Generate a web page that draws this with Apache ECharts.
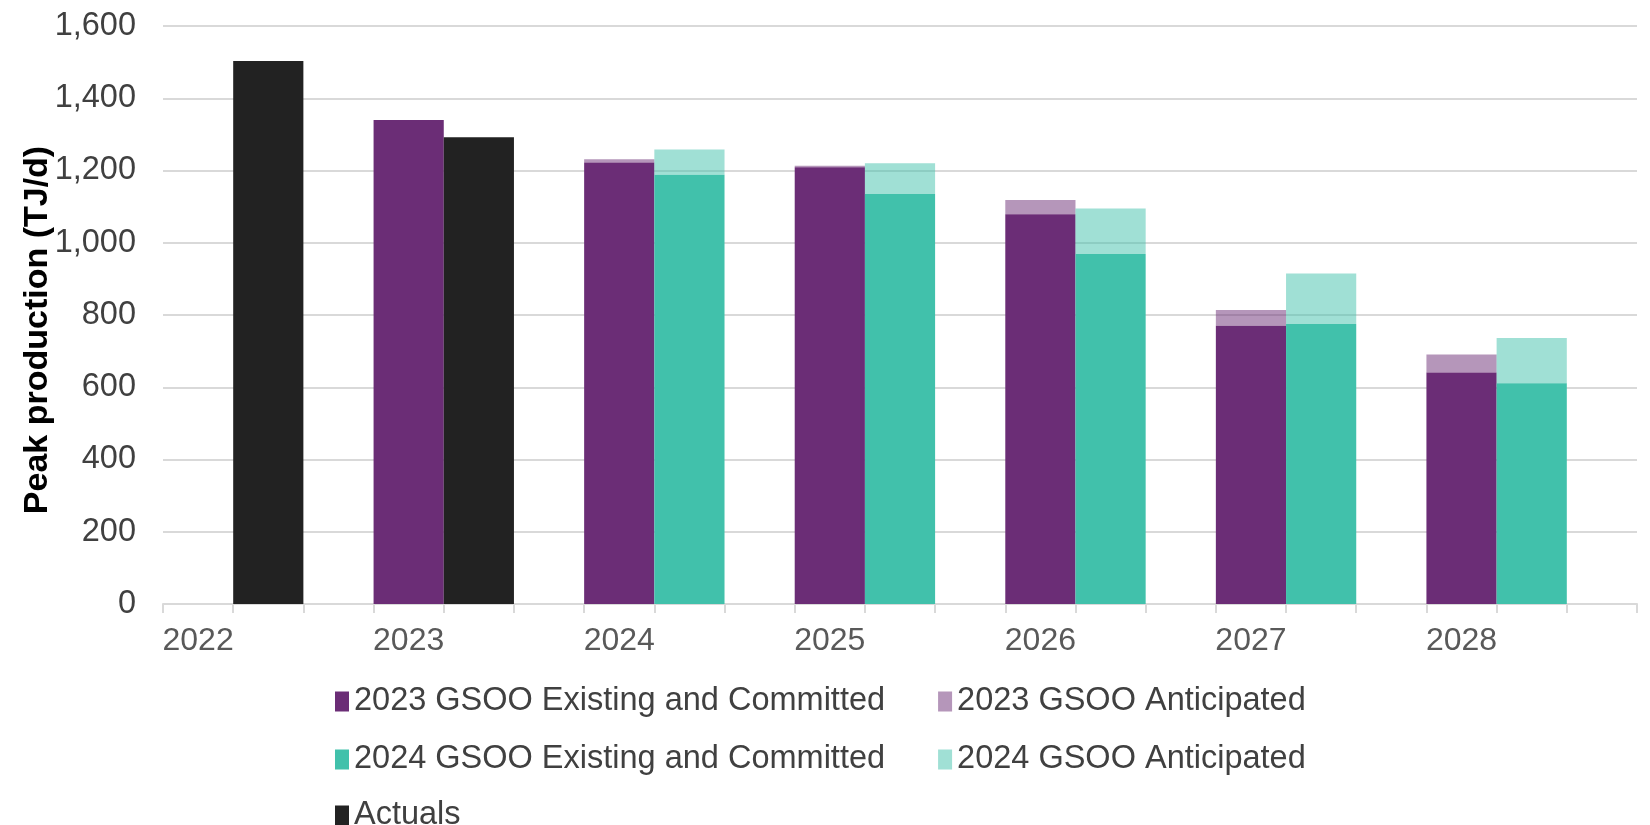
<!DOCTYPE html>
<html>
<head>
<meta charset="utf-8">
<title>Peak production</title>
<script src="https://cdn.jsdelivr.net/npm/echarts@6/dist/echarts.min.js"></script>
<style>
  html, body { margin: 0; padding: 0; background: #ffffff; }
  #chart { width: 1650px; height: 825px; }
</style>
</head>
<body>
<div id="chart"></div>
<script>
// Years shown on the horizontal axis
const years = ['2022', '2023', '2024', '2025', '2026', '2027', '2028'];

// Peak production, TJ/d (null = no value for that year)
const gsoo2023Existing    = [null, 1340, 1222, 1209, 1079, 770, 641];
const gsoo2023Anticipated = [null, 0, 9, 4, 39, 44, 50];
const gsoo2024Existing    = [null, null, 1188, 1135, 969, 775, 611];
const gsoo2024Anticipated = [null, null, 70, 85, 126, 140, 125];
const actuals             = [1503, 1292, null, null, null, null, null];

const yTicks = { min: 0, max: 1600, interval: 200 };

// Each year takes three slots: left bar (2023 GSOO), right bar (2024 GSOO / actuals), gap.
const SLOTS = 3;
const slotLabels = [];
years.forEach(y => { slotLabels.push(y); for (let k = 1; k < SLOTS; k++) slotLabels.push(''); });

function place(values, offset) {
  const out = new Array(years.length * SLOTS).fill(null);
  values.forEach((v, i) => { if (v !== null) out[i * SLOTS + offset] = v; });
  return out;
}

const PURPLE = '#6b2d76';
const TEAL = '#41c1ab';
const BLACK = '#222222';
const FONT = "'Liberation Sans', Arial, sans-serif";

function bar(name, values, offset, color, opacity) {
  return {
    name: name,
    type: 'bar',
    stack: 'all',
    data: place(values, offset),
    barCategoryGap: '0%',
    barGap: '0%',
    itemStyle: { color: color, opacity: opacity },
    emphasis: { disabled: true }
  };
}

const legendText = { fontFamily: FONT, fontSize: 32.5, color: '#404040' };
function legendRow(names, top) {
  return {
    data: names,
    left: 330,
    top: top,
    orient: 'horizontal',
    itemWidth: 14,
    itemHeight: 20,
    itemGap: 53,
    selectedMode: false,
    textStyle: legendText,
    icon: 'rect'
  };
}

const chart = echarts.init(document.getElementById('chart'), null, { renderer: 'canvas' });
chart.setOption({
  animation: false,
  backgroundColor: '#ffffff',
  grid: { left: 163, right: 13, top: 26, bottom: 221, containLabel: false },
  legend: [
    legendRow(['2023 GSOO Existing and Committed', '2023 GSOO Anticipated'], 680),
    legendRow(['2024 GSOO Existing and Committed', '2024 GSOO Anticipated'], 738),
    legendRow(['Actuals'], 794)
  ],
  xAxis: {
    type: 'category',
    data: slotLabels,
    boundaryGap: true,
    axisLine: { lineStyle: { color: '#d9d9d9', width: 2 } },
    axisTick: { show: true, interval: 0, length: 9, lineStyle: { color: '#d9d9d9', width: 2 } },
    axisLabel: { interval: 0, margin: 21, fontFamily: FONT, fontSize: 32, color: '#595959' },
    splitLine: { show: false }
  },
  yAxis: {
    type: 'value',
    min: yTicks.min,
    max: yTicks.max,
    interval: yTicks.interval,
    name: 'Peak production (TJ/d)',
    nameLocation: 'middle',
    nameGap: 108,
    nameMoveOverlap: false,
    nameTextStyle: { fontFamily: FONT, fontSize: 34, fontWeight: 'bold', color: '#000000', padding: [0, 30, 0, 0] },
    axisLine: { show: false },
    axisTick: { show: false },
    axisLabel: {
      margin: 27,
      fontFamily: FONT,
      fontSize: 32.5,
      color: '#404040',
      formatter: v => v.toLocaleString('en-US')
    },
    splitLine: { lineStyle: { color: '#d9d9d9', width: 2 } }
  },
  series: [
    bar('2023 GSOO Existing and Committed', gsoo2023Existing, 0, PURPLE, 1),
    bar('2023 GSOO Anticipated', gsoo2023Anticipated, 0, PURPLE, 0.5),
    bar('2024 GSOO Existing and Committed', gsoo2024Existing, 1, TEAL, 1),
    bar('2024 GSOO Anticipated', gsoo2024Anticipated, 1, TEAL, 0.5),
    bar('Actuals', actuals, 1, BLACK, 1)
  ]
});
</script>
</body>
</html>
